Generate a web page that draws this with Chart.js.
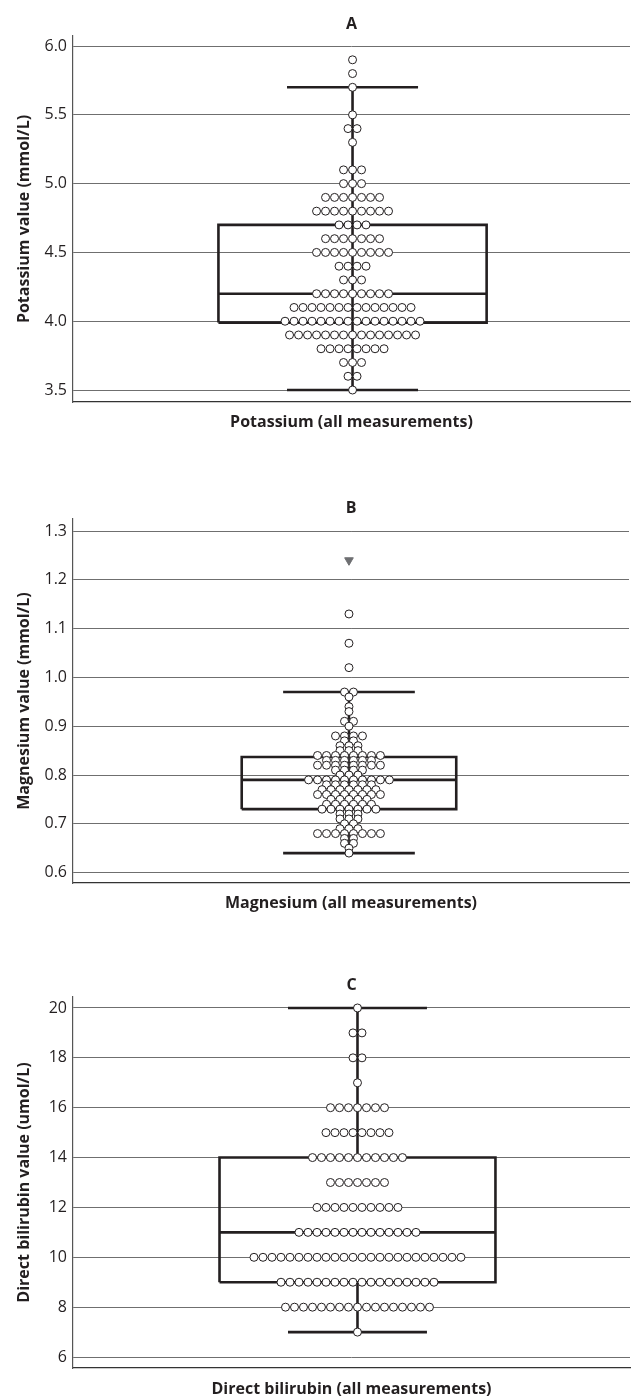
<!DOCTYPE html>
<html>
<head>
<meta charset="utf-8">
<script src="https://cdn.jsdelivr.net/npm/chart.js@4.4.0/dist/chart.umd.min.js"></script>
<style>
  body { margin: 0; background: #fff; width: 635px; height: 1400px; position: relative; overflow: hidden; }
  canvas { position: absolute; left: 0; }
</style>
</head>
<body>
<canvas id="chartA" width="635" height="440" style="top:0px"></canvas>
<canvas id="chartB" width="635" height="440" style="top:480px"></canvas>
<canvas id="chartC" width="635" height="440" style="top:960px"></canvas>
<script>
// A - potassium: value rows and number of measurements in each row
var kValues = [5.9, 5.8, 5.7, 5.5, 5.4, 5.3, 5.1, 5.0, 4.9, 4.8, 4.7, 4.6, 4.5, 4.4, 4.3, 4.2, 4.1, 4.0, 3.9, 3.8, 3.7, 3.6, 3.5];
var kCounts = [1, 1, 1, 1, 2, 1, 3, 3, 7, 9, 4, 7, 9, 4, 3, 9, 14, 16, 15, 8, 3, 2, 1];
var kBox = [3.5, 3.99, 4.2, 4.7, 5.7]; // min, q1, median, q3, max
var kTicks = [3.5, 4.0, 4.5, 5.0, 5.5, 6.0];

// B - magnesium
var mgValues = [1.13, 1.07, 1.02, 0.97, 0.96, 0.94, 0.93, 0.91, 0.90, 0.88, 0.87, 0.86, 0.85, 0.84, 0.83, 0.82, 0.81, 0.80, 0.79,
                0.78, 0.77, 0.76, 0.75, 0.74, 0.73, 0.72, 0.71, 0.70, 0.69, 0.68, 0.67, 0.66, 0.65, 0.64];
var mgCounts = [1, 1, 1, 2, 1, 1, 1, 2, 1, 4, 2, 3, 3, 8, 6, 8, 4, 3, 10,
                6, 7, 8, 5, 6, 7, 3, 3, 2, 3, 8, 2, 2, 1, 1];
var mgExtreme = [1.24];
var mgBox = [0.64, 0.73, 0.79, 0.837, 0.97];
var mgTicks = [0.6, 0.7, 0.8, 0.9, 1.0, 1.1, 1.2, 1.3];

// C - direct bilirubin
var dbValues = [20, 19, 18, 17, 16, 15, 14, 13, 12, 11, 10, 9, 8, 7];
var dbCounts = [1, 2, 2, 1, 7, 8, 11, 7, 10, 14, 24, 18, 17, 1];
var dbBox = [7, 9, 11, 14, 20];
var dbTicks = [6, 8, 10, 12, 14, 16, 18, 20];

var ink = '#231f20';
var font = "'Open Sans', sans-serif";

function makePanel(id, o) {
    // one dot per measurement, each row centred on the box
    var dots = [];
    o.values.forEach(function (v, r) {
        var n = o.counts[r];
        for (var i = 0; i < n; i++) dots.push({ x: i - (n - 1) / 2, y: v });
    });
    var lo = o.box[0], q1 = o.box[1], med = o.box[2], q3 = o.box[3], hi = o.box[4];
    var bw = o.boxHalf, cw = o.capHalf;

    function seg(pts, w) {
        return { data: pts, showLine: true, pointRadius: 0, borderColor: ink, borderWidth: w, fill: false, order: 5 };
    }

    var datasets = [{
        data: dots,
        pointRadius: 4,
        pointBackgroundColor: '#fff',
        pointBorderColor: ink,
        pointBorderWidth: 1,
        showLine: false,
        order: 1
    }];
    if (o.extreme) {
        datasets.push({
            data: o.extreme.map(function (v) { return { x: 0, y: v }; }),
            pointStyle: 'triangle',
            rotation: 180,
            pointRadius: 5,
            pointBackgroundColor: '#6d6e71',
            pointBorderColor: '#6d6e71',
            showLine: false,
            order: 1
        });
    }
    datasets.push(seg([{ x: -bw, y: q1 }, { x: bw, y: q1 }, { x: bw, y: q3 }, { x: -bw, y: q3 }, { x: -bw, y: q1 }], 2.6));
    datasets.push(seg([{ x: -bw, y: med }, { x: bw, y: med }], 2.6));
    if (o.stemThrough) {
        datasets.push(seg([{ x: 0, y: lo }, { x: 0, y: hi }], 2.6));
    } else {
        datasets.push(seg([{ x: 0, y: lo }, { x: 0, y: q1 }], 2.6));
        datasets.push(seg([{ x: 0, y: q3 }, { x: 0, y: hi }], 2.6));
    }
    datasets.push(seg([{ x: -cw, y: lo }, { x: cw, y: lo }], 2.6));
    datasets.push(seg([{ x: -cw, y: hi }, { x: cw, y: hi }], 2.6));

    return new Chart(document.getElementById(id), {
        type: 'scatter',
        data: { datasets: datasets },
        options: {
            responsive: false,
            animation: false,
            layout: { padding: { left: 0, right: 5, top: 0, bottom: 0 } },
            plugins: {
                legend: { display: false },
                tooltip: { enabled: false },
                title: {
                    display: true,
                    text: o.letter,
                    fullSize: false,
                    color: ink,
                    font: { family: font, size: 16, weight: 'bold' },
                    padding: o.titlePad
                }
            },
            scales: {
                x: {
                    type: 'linear',
                    min: o.xMin,
                    max: o.xMax,
                    grid: { display: false },
                    border: { display: true, color: '#333', width: 1.2 },
                    ticks: { display: false },
                    title: {
                        display: true,
                        text: o.xLabel,
                        color: ink,
                        font: { family: font, size: 16, weight: 'bold' },
                        padding: { top: 0, bottom: o.xLabelPad }
                    },
                    afterFit: function (scale) { scale.height = o.xHeight; }
                },
                y: {
                    min: o.yMin,
                    max: o.yMax,
                    afterBuildTicks: function (scale) {
                        scale.ticks = o.ticks.map(function (v) { return { value: v }; });
                    },
                    grid: { color: '#6f6f6f', lineWidth: 1, drawTicks: false },
                    border: { display: true, color: '#555', width: 1.2 },
                    ticks: {
                        padding: 6,
                        color: ink,
                        font: { family: font, size: 16 },
                        callback: function (v) { return Number(v).toFixed(o.decimals); }
                    },
                    title: {
                        display: true,
                        text: o.yLabel,
                        color: ink,
                        font: { family: font, size: 16, weight: 'bold' },
                        padding: { top: 14.4, bottom: 0 }
                    },
                    afterFit: function (scale) { scale.width = 73; }
                }
            }
        }
    });
}

makePanel('chartA', {
    letter: 'A', values: kValues, counts: kCounts, box: kBox, ticks: kTicks, decimals: 1,
    yMin: 3.413, yMax: 6.073, xMin: -31.06, xMax: 30.83,
    boxHalf: 14.9, capHalf: 7.28, stemThrough: true,
    titlePad: { top: 14.4, bottom: 2.4 }, xHeight: 38, xLabelPad: 8.4,
    yLabel: 'Potassium value (mmol/L)', xLabel: 'Potassium (all measurements)'
});

makePanel('chartB', {
    letter: 'B', values: mgValues, counts: mgCounts, extreme: mgExtreme, box: mgBox, ticks: mgTicks, decimals: 1,
    yMin: 0.5787, yMax: 1.3246, xMin: -30.72, xMax: 31.17,
    boxHalf: 11.94, capHalf: 7.33, stemThrough: true,
    titlePad: { top: 18.4, bottom: 1.4 }, xHeight: 37, xLabelPad: 7.4,
    yLabel: 'Magnesium value (mmol/L)', xLabel: 'Magnesium (all measurements)'
});

makePanel('chartC', {
    letter: 'C', values: dbValues, counts: dbCounts, box: dbBox, ticks: dbTicks, decimals: 0,
    yMin: 5.56, yMax: 20.44, xMin: -31.61, xMax: 30.28,
    boxHalf: 15.33, capHalf: 7.72, stemThrough: false,
    titlePad: { top: 15.4, bottom: 2.4 }, xHeight: 32, xLabelPad: 1.4,
    yLabel: 'Direct bilirubin value (umol/L)', xLabel: 'Direct bilirubin (all measurements)'
});
</script>
</body>
</html>
